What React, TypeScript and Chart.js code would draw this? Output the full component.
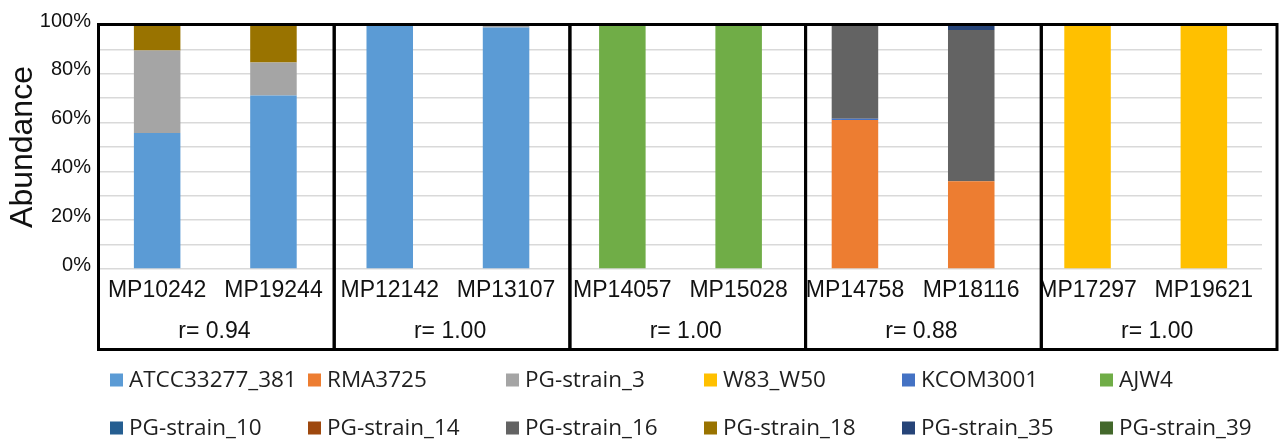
import React, { useEffect, useRef } from 'react';
import { Chart, registerables } from 'chart.js';

Chart.register(...registerables);

const categories = ['MP10242', 'MP19244', 'MP12142', 'MP13107', 'MP14057', 'MP15028', 'MP14758', 'MP18116', 'MP17297', 'MP19621'];

const strainNames = ['ATCC33277_381', 'RMA3725', 'PG-strain_3', 'W83_W50', 'KCOM3001', 'AJW4', 'PG-strain_10', 'PG-strain_14', 'PG-strain_16', 'PG-strain_18', 'PG-strain_35', 'PG-strain_39'];
const strainColors = ['#5B9BD5', '#ED7D31', '#A5A5A5', '#FFC000', '#4472C4', '#70AD47', '#255E91', '#9E480E', '#636363', '#997300', '#264478', '#43682B'];

const atcc33277 = [55.7, 71.1, 100, 99, 0, 0, 0, 0, 0, 0];
const rma3725 = [0, 0, 0, 0, 0, 0, 61.1, 36, 0, 0];
const pgStrain3 = [33.8, 13.5, 0, 1, 0, 0, 0, 0, 0, 0];
const w83W50 = [0, 0, 0, 0, 0, 0, 0, 0, 100, 100];
const kcom3001 = [0, 0, 0, 0, 0, 0, 0.5, 0, 0, 0];
const ajw4 = [0, 0, 0, 0, 100, 100, 0, 0, 0, 0];
const pgStrain10 = [0, 0, 0, 0, 0, 0, 0, 0, 0, 0];
const pgStrain14 = [0, 0, 0, 0, 0, 0, 0, 0, 0, 0];
const pgStrain16 = [0, 0, 0, 0, 0, 0, 38.4, 62, 0, 0];
const pgStrain18 = [10.5, 15.4, 0, 0, 0, 0, 0, 0, 0, 0];
const pgStrain35 = [0, 0, 0, 0, 0, 0, 0, 2, 0, 0];
const pgStrain39 = [0, 0, 0, 0, 0, 0, 0, 0, 0, 0];

const seriesValues = [atcc33277, rma3725, pgStrain3, w83W50, kcom3001, ajw4, pgStrain10, pgStrain14, pgStrain16, pgStrain18, pgStrain35, pgStrain39];

const yTickLabels = ['0%', '20%', '40%', '60%', '80%', '100%'];
const panelR = ['0.94', '1.00', '1.00', '0.88', '1.00'];

const ARIAL = "'Liberation Sans', Arial, sans-serif";

const panelPlugin = {
  id: 'panels',
  afterDraw(chart: any) {
    const ctx = chart.ctx;
    const area = chart.chartArea;
    const left = area.left - 0.5;
    const right = 1277;
    const top = 24.5;
    const bottom = 349.5;
    const w = (right - left) / panelR.length;
    ctx.save();
    ctx.strokeStyle = '#000';
    ctx.lineWidth = 3;
    ctx.font = `23px ${ARIAL}`;
    ctx.fillStyle = '#111';
    ctx.textAlign = 'center';
    ctx.textBaseline = 'middle';
    panelR.forEach((r, i) => {
      const x0 = left + i * w;
      ctx.strokeRect(x0, top, w, bottom - top);
      ctx.fillText('r= ' + r, x0 + w / 2 - 2, 332);
    });
    ctx.restore();
  },
};

const legendPlugin = {
  id: 'gridLegend',
  afterDraw(chart: any) {
    const ctx = chart.ctx;
    ctx.save();
    ctx.font = "22.5px 'Open Sans', sans-serif";
    ctx.textBaseline = 'middle';
    ctx.textAlign = 'left';
    chart.data.datasets.forEach((ds: any, i: number) => {
      const col = i % 6;
      const row = Math.floor(i / 6);
      const x = 110 + col * 198;
      const y = 380 + row * 48;
      ctx.fillStyle = ds.backgroundColor;
      ctx.fillRect(x, y - 6.5, 13, 13);
      ctx.fillStyle = '#1f1f1f';
      ctx.fillText(ds.label, x + 19, y + 1);
    });
    ctx.restore();
  },
};

export default function App() {
  const ref = useRef<HTMLCanvasElement | null>(null);
  useEffect(() => {
    if (!ref.current) return;
    const chart = new Chart(ref.current, {
      type: 'bar',
      data: {
        labels: categories,
        datasets: strainNames.map((name, i) => ({
          label: name,
          data: seriesValues[i],
          backgroundColor: strainColors[i],
          borderWidth: 0,
          barPercentage: 0.4,
          categoryPercentage: 1,
        })),
      },
      options: {
        responsive: false,
        animation: false,
        layout: { padding: { top: 25, right: 22, bottom: 0, left: 0 } },
        plugins: { legend: { display: false }, tooltip: { enabled: false } },
        scales: {
          x: {
            stacked: true,
            grid: { display: false, drawTicks: false },
            border: { display: false },
            ticks: {
              autoSkip: false,
              maxRotation: 0,
              padding: 8,
              color: '#111',
              font: { family: ARIAL, size: 23 },
            },
            afterFit(scale: any) {
              scale.height = 172;
            },
          },
          y: {
            stacked: true,
            min: 0,
            max: 100,
            grid: { color: '#d9d9d9', lineWidth: 1.5, drawTicks: false },
            border: { display: false },
            ticks: {
              stepSize: 10,
              autoSkip: false,
              padding: 8,
              labelOffset: -4,
              color: '#111',
              font: { family: ARIAL, size: 20 },
              callback: (v: any) => {
                const n = Number(v);
                return n % 20 === 0 ? yTickLabels[n / 20] : '';
              },
            },
            title: {
              display: true,
              text: 'Abundance',
              color: '#111',
              font: { family: ARIAL, size: 32 },
              padding: { top: 4, bottom: 0 },
            },
            afterFit(scale: any) {
              scale.width = 99;
            },
          },
        },
      },
      plugins: [panelPlugin, legendPlugin],
    });
    return () => chart.destroy();
  }, []);
  return (
    <div style={{ position: 'absolute', left: 0, top: 0, width: 1284, height: 441, background: '#fff' }}>
      <canvas ref={ref} width={1284} height={441} />
    </div>
  );
}
